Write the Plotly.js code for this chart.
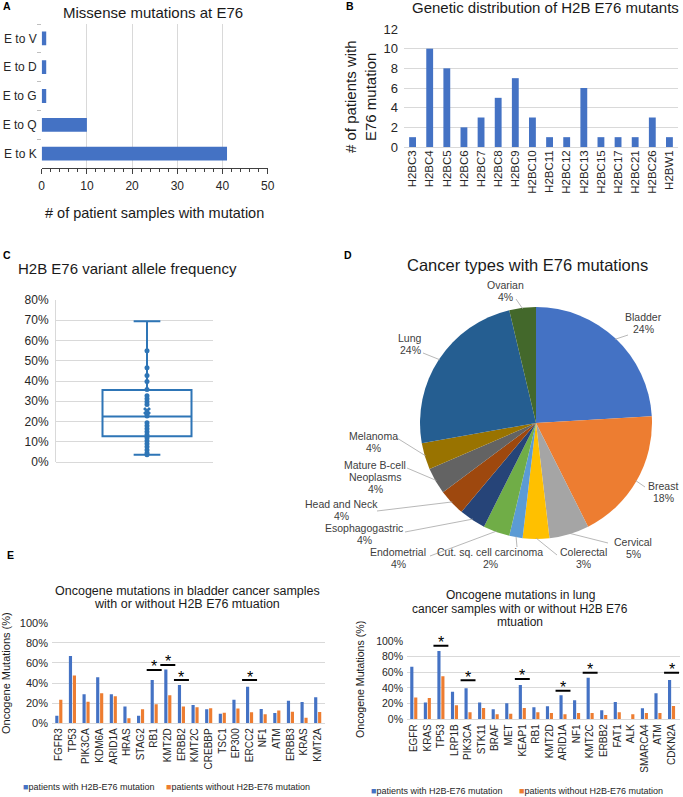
<!DOCTYPE html>
<html><head><meta charset="utf-8">
<script src="https://cdn.plot.ly/plotly-3.0.1.min.js"></script>
<style>html,body{margin:0;padding:0;background:#fff}#chart{width:683px;height:797px}</style>
</head><body><div id="chart"></div>
<script>
// ---------------- DATA ----------------
const missenseTypes = ['E to V','E to D','E to G','E to Q','E to K'];
const missenseCounts = [1, 1, 1, 10, 41];

const h2bGenes = ['H2BC3','H2BC4','H2BC5','H2BC6','H2BC7','H2BC8','H2BC9','H2BC10','H2BC11','H2BC12','H2BC13','H2BC15','H2BC17','H2BC21','H2BC26','H2BW1'];
const h2bCounts = [1, 10, 8, 2, 3, 5, 7, 3, 1, 1, 6, 1, 1, 1, 3, 1];

const vafDots = [0.55, 0.465, 0.427, 0.397, 0.358, 0.327, 0.312, 0.297, 0.284, 0.24, 0.227, 0.194, 0.179, 0.164, 0.149, 0.135, 0.12, 0.105, 0.09, 0.075, 0.059, 0.044, 0.036];
const vafMin = [0.036];
const vafQ1 = [0.127];
const vafMedian = [0.225];
const vafQ3 = [0.356];
const vafMax = [0.695];
const vafMean = [0.252];

const cancerTypes = ['Bladder','Breast','Cervical','Colerectal','Cut. sq. cell carcinoma','Endometrial','Esophagogastric','Head and Neck','Mature B-cell\nNeoplasms','Melanoma','Lung','Ovarian'];
const cancerCounts = [13, 10, 3, 2, 1, 2, 2, 2, 2, 2, 13, 2];
const cancerPctLabels = ['24%','18%','5%','3%','2%','4%','4%','4%','4%','4%','24%','4%'];
const cancerColors = ['#4472C4','#ED7D31','#A5A5A5','#FFC000','#5B9BD5','#70AD47','#264478','#9E480E','#636363','#997300','#255E91','#43682B'];

const bladderGenes = ['FGFR3','TP53','PIK3CA','KDM6A','ARID1A','HRAS','STAG2','RB1','KMT2D','ERBB2','KMT2C','CREBBP','TSC1','EP300','ERCC2','NF1','ATM','ERBB3','KRAS','KMT2A'];
const bladderWith =    [0.076, 0.669, 0.29, 0.457, 0.29, 0.166, 0.076, 0.43, 0.536, 0.38, 0.182, 0.14, 0.096, 0.235, 0.364, 0.142, 0.103, 0.225, 0.212, 0.258];
const bladderWithout = [0.235, 0.474, 0.215, 0.298, 0.27, 0.05, 0.14, 0.19, 0.28, 0.166, 0.16, 0.15, 0.106, 0.146, 0.11, 0.09, 0.126, 0.116, 0.056, 0.113];
const bladderSigGenes = ['RB1','KMT2D','ERBB2','ERCC2'];
const bladderSigLevel = [0.53, 0.58, 0.43, 0.43];

const lungGenes = ['EGFR','KRAS','TP53','LRP1B','PIK3CA','STK11','BRAF','MET','KEAP1','RB1','KMT2D','ARID1A','NF1','KMT2C','ERBB2','FAT1','ALK','SMARCA4','ATM','CDKN2A'];
const lungWith =    [0.672, 0.213, 0.872, 0.353, 0.396, 0.213, 0.128, 0.204, 0.438, 0.153, 0.166, 0.306, 0.243, 0.532, 0.115, 0.221, 0, 0.14, 0.332, 0.502];
const lungWithout = [0.28, 0.272, 0.549, 0.179, 0.089, 0.145, 0.064, 0.072, 0.145, 0.089, 0.081, 0.064, 0.081, 0.081, 0.055, 0.089, 0.064, 0.081, 0.081, 0.17];
const lungSigGenes = ['TP53','PIK3CA','KEAP1','ARID1A','KMT2C','CDKN2A'];
const lungSigLevel = [0.94, 0.50, 0.515, 0.365, 0.595, 0.595];

const pctTickVals = [0, 0.2, 0.4, 0.6, 0.8, 1.0];
const pctTickText = ['0%', '20%', '40%', '60%', '80%', '100%'];

const seriesNames = ['patients with H2B-E76 mutation','patients without H2B-E76 mutation'];

// ---------------- LAYOUT HELPERS ----------------
const W = 683, H = 797;
const FONT = 'Liberation Sans, Arial, Helvetica, sans-serif';
const BLUE = '#4472C4', ORANGE = '#ED7D31', BOXBLUE = '#2E75B6', GRID = '#D9D9D9';
const TXT = '#1a1a1a', TICK = '#262626';
const px = x => x / W;
const py = y => 1 - y / H;

function ann(text, x, y, size, o) {
  return Object.assign({text: text, x: px(x), y: py(y), xref: 'paper', yref: 'paper', showarrow: false,
    xanchor: 'center', yanchor: 'middle', font: {family: FONT, size: size, color: TXT}}, o || {});
}

const annotations = [];
const shapes = [];

// Panel letters
[['A',7,6],['B',350,6],['C',7,255],['D',348,255],['E',10,555]].forEach(p => {
  annotations.push(ann('<b>' + p[0] + '</b>', p[1], p[2], 10.5, {font: {family: FONT, size: 10.5, color: '#000'}}));
});

// Titles
annotations.push(ann('Missense mutations at E76', 153, 12, 15));
annotations.push(ann('# of patient samples with mutation', 154, 213, 14.5));
annotations.push(ann('Genetic distribution of H2B E76 mutants', 681, 8, 15, {xanchor: 'right'}));
annotations.push(ann('# of patients with', 350, 97, 15, {textangle: -90}));
annotations.push(ann('E76 mutation', 370, 97, 15, {textangle: -90}));
annotations.push(ann('H2B E76 variant allele frequency', 127, 268, 15));
annotations.push(ann('Cancer types with E76 mutations', 527, 265, 16.5));
annotations.push(ann('Oncogene mutations in bladder cancer samples', 187, 591, 12.5));
annotations.push(ann('with or without H2B E76 mtuation', 187, 603.5, 12.5));
annotations.push(ann('Oncogene Mutations (%)', 6, 673, 11, {textangle: -90}));
annotations.push(ann('Oncogene mutations in lung', 520, 595, 12));
annotations.push(ann('cancer samples with or without H2B E76', 520, 608.5, 12));
annotations.push(ann('mtuation', 520, 622, 12));
annotations.push(ann('Oncogene Mutations (%)', 360, 680, 10.6, {textangle: -90}));

// Legends (text with coloured squares)
function legendItem(color, name, x, y) {
  annotations.push(ann('<span style="color:' + color + '">\u25A0</span>' + name, x, y, 9, {xanchor: 'left', font: {family: FONT, size: 9, color: TICK}}));
}
legendItem(BLUE, seriesNames[0], 21, 787);
legendItem(ORANGE, seriesNames[1], 164, 787);
legendItem(BLUE, seriesNames[0], 369, 790.5);
legendItem(ORANGE, seriesNames[1], 517, 790.5);

// Pie labels + leader lines
const pieCx = 536, pieCy = 423, pieR = 116;
const pieTextPos = [[643,323],[663,492],[633,548],[583,558],[490,558],[398,558],[364,534],[341,509.5],[375,477],[373,442],[410,344],[505,291]];
const pieLeadStart = [[628,335],[645,487],[608,543],[557,555],[517,547],[430,556],[405,532],[377,511],[407,468],[397,438],[423,353],[516,299]];
const pieTotal = cancerCounts.reduce((a, b) => a + b, 0);
let cum = 0;
cancerTypes.forEach((name, i) => {
  const mid = (cum + cancerCounts[i] / 2) / pieTotal * 2 * Math.PI;
  cum += cancerCounts[i];
  const ex = pieCx + (pieR - 1) * Math.sin(mid);
  const ey = pieCy - (pieR - 1) * Math.cos(mid);
  shapes.push({type: 'line', xref: 'paper', yref: 'paper', x0: px(pieLeadStart[i][0]), y0: py(pieLeadStart[i][1]),
    x1: px(ex), y1: py(ey), line: {color: '#A6A6A6', width: 0.8}});
  const lines = name.split('\n').concat([cancerPctLabels[i]]);
  const n = lines.length;
  lines.forEach((t, k) => {
    annotations.push(ann(t, pieTextPos[i][0], pieTextPos[i][1] + (k - (n - 1) / 2) * 12, 10.5, {font: {family: FONT, size: 10.5, color: '#404040'}}));
  });
});

// Significance bars
function sig(genes, sigGenes, levels, xr, yr) {
  sigGenes.forEach((g, i) => {
    const idx = genes.indexOf(g);
    shapes.push({type: 'line', xref: xr, yref: yr, x0: idx - 0.55, x1: idx + 0.55, y0: levels[i], y1: levels[i], line: {color: '#000', width: 2}});
    annotations.push({text: '*', x: idx, y: levels[i], xref: xr, yref: yr, showarrow: false, xanchor: 'center', yanchor: 'middle', yshift: 3,
      font: {family: FONT, size: 16, color: '#000'}});
  });
}
sig(bladderGenes, bladderSigGenes, bladderSigLevel, 'x4', 'y4');
sig(lungGenes, lungSigGenes, lungSigLevel, 'x5', 'y5');

// ---------------- TRACES ----------------
const traces = [
  {type: 'bar', orientation: 'h', x: missenseCounts, y: missenseTypes, xaxis: 'x', yaxis: 'y', width: 0.48, marker: {color: BLUE}, showlegend: false},
  {type: 'bar', x: h2bGenes, y: h2bCounts, xaxis: 'x2', yaxis: 'y2', width: 0.4, marker: {color: BLUE}, showlegend: false},
  {type: 'box', x: [0], q1: vafQ1, median: vafMedian, q3: vafQ3, lowerfence: vafMin, upperfence: vafMax,
    xaxis: 'x3', yaxis: 'y3', width: 0.89, whiskerwidth: 0.3, boxpoints: false,
    line: {color: BOXBLUE, width: 2}, fillcolor: 'rgba(255,255,255,0)', showlegend: false},
  {type: 'scatter', mode: 'markers', x: vafDots.map(() => 0), y: vafDots, xaxis: 'x3', yaxis: 'y3',
    marker: {color: BOXBLUE, size: 5}, showlegend: false},
  {type: 'scatter', mode: 'markers', x: [0], y: vafMean, xaxis: 'x3', yaxis: 'y3',
    marker: {color: BOXBLUE, size: 7, symbol: 'x'}, showlegend: false},
  {type: 'pie', labels: cancerTypes.map(s => s.replace('\n', ' ')), values: cancerCounts, sort: false, direction: 'clockwise', rotation: 0,
    textinfo: 'none', marker: {colors: cancerColors, line: {width: 0}},
    domain: {x: [px(420), px(652)], y: [py(539), py(307)]}, showlegend: false},
  {type: 'bar', name: seriesNames[0], x: bladderGenes, y: bladderWith, xaxis: 'x4', yaxis: 'y4', marker: {color: BLUE}, showlegend: false},
  {type: 'bar', name: seriesNames[1], x: bladderGenes, y: bladderWithout, xaxis: 'x4', yaxis: 'y4', marker: {color: ORANGE}, showlegend: false},
  {type: 'bar', name: seriesNames[0], x: lungGenes, y: lungWith, xaxis: 'x5', yaxis: 'y5', marker: {color: BLUE}, showlegend: false},
  {type: 'bar', name: seriesNames[1], x: lungGenes, y: lungWithout, xaxis: 'x5', yaxis: 'y5', marker: {color: ORANGE}, showlegend: false}
];

const tf = s => ({family: FONT, size: s, color: TICK});

const layout = {
  width: W, height: H, margin: {l: 0, r: 0, t: 0, b: 0},
  paper_bgcolor: '#fff', plot_bgcolor: '#fff',
  font: {family: FONT, color: TICK},
  showlegend: false, barmode: 'group', bargap: 0.42, bargroupgap: 0.2,
  xaxis: {domain: [px(41.7), px(267.7)], anchor: 'y', range: [0, 50], tickmode: 'linear', tick0: 0, dtick: 10, showgrid: true, gridcolor: GRID,
    showline: true, linecolor: '#404040', ticks: 'outside', ticklen: 5, tickcolor: '#404040', zeroline: false,
    minor: {dtick: 2, ticks: 'outside', ticklen: 3, tickcolor: '#404040', showgrid: false},
    tickfont: tf(12), ticklabelstandoff: 2, fixedrange: true},
  yaxis: {domain: [py(168), py(24)], anchor: 'x', type: 'category', autorange: 'reversed', showgrid: false,
    ticks: 'outside', ticklen: 4, tickcolor: '#BFBFBF', tickson: 'boundaries', tickfont: tf(12), ticklabelstandoff: 4},
  xaxis2: {domain: [px(404), px(678)], anchor: 'y2', type: 'category', tickangle: -90, tickfont: tf(11.5), showgrid: false, ticks: '', showline: false},
  yaxis2: {domain: [py(147), py(29)], anchor: 'x2', range: [0, 12], tickmode: 'linear', tick0: 0, dtick: 2, gridcolor: GRID, zeroline: true, zerolinecolor: GRID,
    tickfont: tf(13), ticklabelstandoff: 5},
  xaxis3: {domain: [px(56), px(213)], anchor: 'y3', range: [-0.91, 0.66], visible: false},
  yaxis3: {domain: [py(462), py(300)], anchor: 'x3', range: [0, 0.8], tickmode: 'linear', tick0: 0, dtick: 0.1, tickformat: '.0%', gridcolor: GRID,
    zeroline: true, zerolinecolor: GRID, showline: true, linecolor: GRID, tickfont: tf(12), ticklabelstandoff: 4},
  xaxis4: {domain: [px(52), px(324.5)], anchor: 'y4', type: 'category', tickangle: -90, tickfont: tf(10), showgrid: false,
    showline: true, linecolor: GRID, ticks: ''},
  yaxis4: {domain: [py(723.3), py(622.7)], anchor: 'x4', range: [0, 1], tickmode: 'array', tickvals: pctTickVals, ticktext: pctTickText, gridcolor: GRID,
    zeroline: false, tickfont: tf(11), ticklabelstandoff: 3},
  xaxis5: {domain: [px(407), px(680)], anchor: 'y5', type: 'category', tickangle: -90, tickfont: tf(10), showgrid: false,
    showline: true, linecolor: GRID, ticks: ''},
  yaxis5: {domain: [py(719.3), py(641)], anchor: 'x5', range: [0, 1], tickmode: 'array', tickvals: pctTickVals, ticktext: pctTickText, gridcolor: GRID,
    zeroline: false, tickfont: tf(10.5), ticklabelstandoff: 3},
  annotations: annotations,
  shapes: shapes
};

Plotly.newPlot('chart', traces, layout, {staticPlot: true, displayModeBar: false});
</script>
</body></html>
